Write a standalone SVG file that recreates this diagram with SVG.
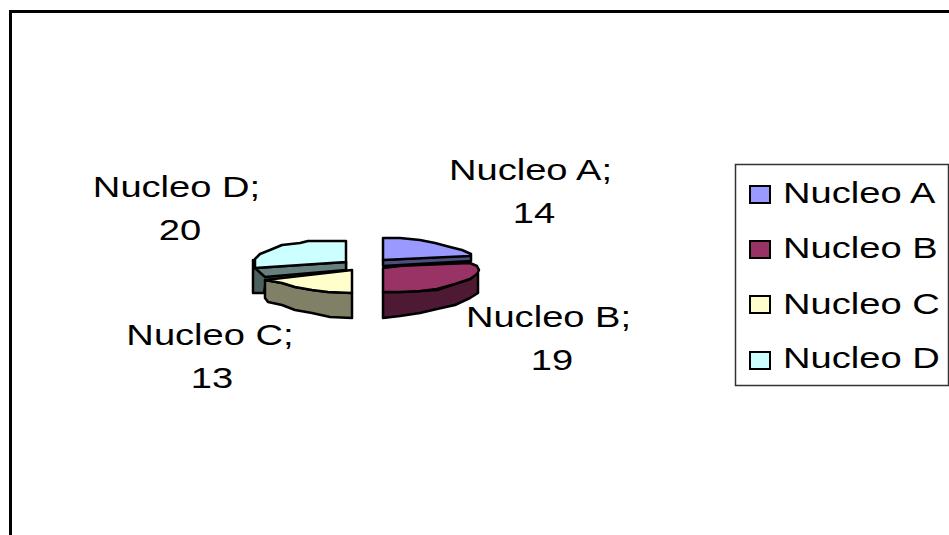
<svg xmlns="http://www.w3.org/2000/svg" width="949" height="535" viewBox="0 0 949 535">
<style>
.t{font-family:"Liberation Sans",Arial,sans-serif;font-size:30px;fill:#000}
.m{text-anchor:middle}
.s{stroke:#000;stroke-width:2.5;stroke-linejoin:round}
.k{stroke:#000;stroke-width:2}
</style>
<rect x="0" y="0" width="949" height="535" fill="#fff"/>
<rect x="10.5" y="11.5" width="960" height="540" fill="none" stroke="#000" stroke-width="3"/>
<g id="slice-d">
<polygon class="s" fill="#4d6060" points="253,260 255,268 346,262 346,276 266,281 264,293 253,293"/>
<polygon class="s" fill="#668080" points="255,268 346,262 346,270 265,277"/>
<polygon class="s" fill="#CCFFFF" points="255,259 260,254 270,250 282,245 300,243 308,241 346,241 346,262 255,268"/>
</g>
<g id="slice-c">
<polygon class="s" fill="#808066" points="265,280 282,283 295,287 312,290 328,292 352,293 352,318 330,317 312,313 295,310 282,305 268,302 265,298"/>
<polygon class="s" fill="#FFFFCC" points="265,280 352,270 352,293 328,292 312,290 295,287 282,283"/>
</g>
<g id="slice-a">
<polygon class="s" fill="#4D4D80" points="383,260 471,255 471,261 383,266"/>
<polygon class="s" fill="#9999FF" points="383,238 400,238 420,240 435,243 450,247 462,250 471,254 470,256 383,260"/>
</g>
<g id="slice-b">
<polygon class="s" fill="#4D1933" points="383,292 400,292 420,291 437,290 455,284 470,279 478,273 478,293 470,298 455,305 437,309 420,313 400,316 383,318"/>
<polygon class="s" fill="#993366" points="383,268 400,266 420,265 470,263 477,266 479,270 477,274 470,279 455,284 437,289 420,291 400,292 383,292"/>
</g>
<g id="labels">
<text class="t m" transform="translate(176.5 197) scale(1.27 1)">Nucleo D;</text>
<text class="t m" transform="translate(180 240) scale(1.27 1)">20</text>
<text class="t m" transform="translate(530.5 180) scale(1.27 1)">Nucleo A;</text>
<text class="t m" transform="translate(534 223) scale(1.27 1)">14</text>
<text class="t m" transform="translate(210 345) scale(1.27 1)">Nucleo C;</text>
<text class="t m" transform="translate(212 388) scale(1.27 1)">13</text>
<text class="t m" transform="translate(548.5 327) scale(1.27 1)">Nucleo B;</text>
<text class="t m" transform="translate(552 370) scale(1.27 1)">19</text>
</g>
<g id="legend">
<rect x="735.5" y="164.5" width="213" height="221" fill="#fff" stroke="#333" stroke-width="1.5"/>
<rect class="k" x="750" y="186" width="20" height="17" fill="#9999FF"/>
<text class="t" transform="translate(783 203) scale(1.27 1)">Nucleo A</text>
<rect class="k" x="750" y="241" width="20" height="17" fill="#993366"/>
<text class="t" transform="translate(783 258) scale(1.27 1)">Nucleo B</text>
<rect class="k" x="750" y="296" width="20" height="17" fill="#FFFFCC"/>
<text class="t" transform="translate(783 314) scale(1.27 1)">Nucleo C</text>
<rect class="k" x="750" y="352" width="20" height="17" fill="#CCFFFF"/>
<text class="t" transform="translate(783 368) scale(1.27 1)">Nucleo D</text>
</g>
</svg>
